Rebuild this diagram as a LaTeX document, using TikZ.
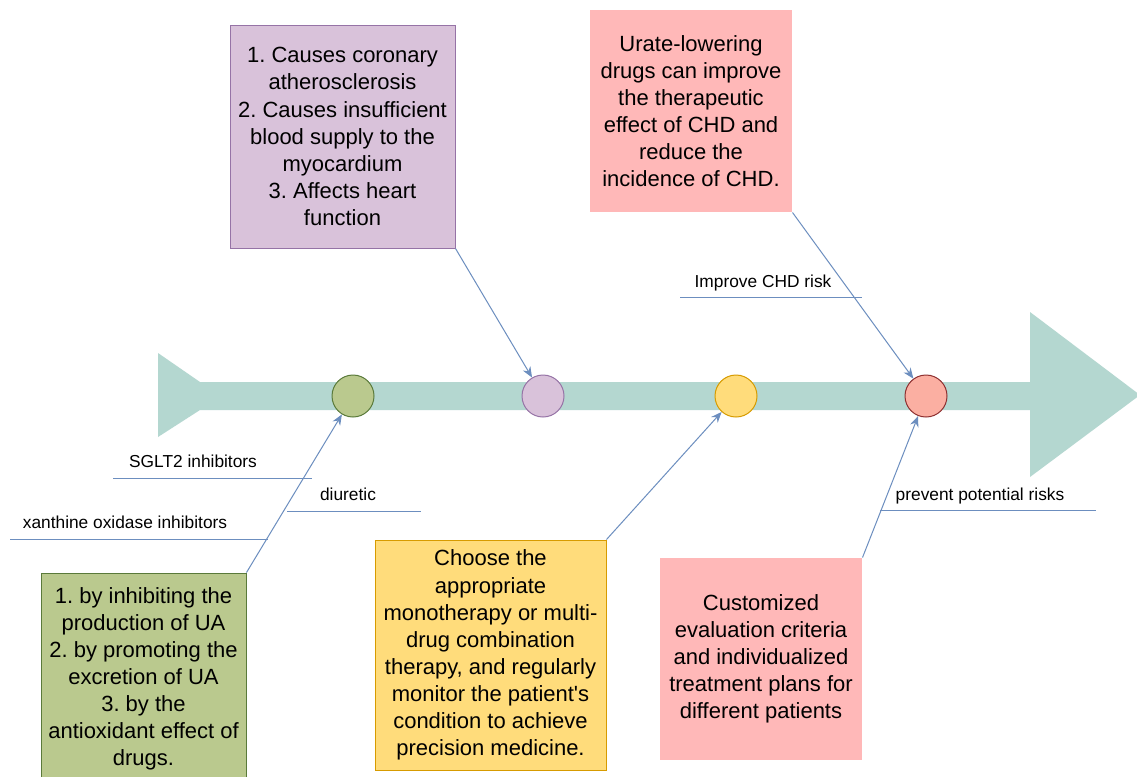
\documentclass[tikz,border=0pt]{standalone}
\usepackage{fontspec}
\setmainfont{Liberation Sans}[Ligatures=TeXOff]
\frenchspacing
\usetikzlibrary{arrows.meta}
\definecolor{spine}{HTML}{B4D7D0}
\definecolor{gfill}{HTML}{BAC98E}
\definecolor{gline}{HTML}{5A7A3A}
\definecolor{pfill}{HTML}{D9C2DA}
\definecolor{pline}{HTML}{9673A6}
\definecolor{yfill}{HTML}{FFDC7B}
\definecolor{yline}{HTML}{D79B00}
\definecolor{rfill}{HTML}{FBAFA2}
\definecolor{rline}{HTML}{8E3030}
\definecolor{pink}{HTML}{FFB8B8}
\definecolor{conn}{HTML}{6C8EBF}
\tikzset{
  dot/.style={circle, minimum size=31.5pt, inner sep=0pt, line width=0.75pt},
  box/.style={rectangle, inner sep=0pt, align=center, line width=0.75pt,
    font=\fontsize{16.5}{20.3}\selectfont},
  link/.style={draw=conn, line width=0.75pt, -{Stealth[length=8pt,width=6.5pt]}},
  branch/.style={draw=conn, line width=0.75pt},
  lbl/.style={font=\fontsize{13}{15}\selectfont, inner sep=0pt, anchor=base}
}
\begin{document}
\begin{tikzpicture}[x=0.75pt,y=-0.75pt]
\clip (0,0) rectangle (1137,776);
\fill[white] (0,0) rectangle (1137,776);
% spine
\fill[spine] (158,353) -- (200,382) -- (1030,382) -- (1030,312) -- (1140,395) -- (1030,477) -- (1030,410) -- (200,410) -- (158,437) -- cycle;
% circles
\node[dot, fill=gfill, draw=gline] (c1) at (353,396) {};
\node[dot, fill=pfill, draw=pline] (c2) at (543,396) {};
\node[dot, fill=yfill, draw=yline] (c3) at (736,396) {};
\node[dot, fill=rfill, draw=rline] (c4) at (926,396) {};
% boxes
\node[box, fill=pfill, draw=pline, minimum width=168.75pt, minimum height=167.25pt] (b1) at (342.5,136.5)
  {1. Causes coronary\\atherosclerosis\\2. Causes insufficient\\blood supply to the\\myocardium\\3. Affects heart\\function};
\node[box, fill=pink, minimum width=151.5pt, minimum height=151.5pt] (b2) at (691,111)
  {Urate-lowering\\drugs can improve\\the therapeutic\\effect of CHD and\\reduce the\\incidence of CHD.};
\node[box, fill=gfill, draw=gline, minimum width=153.75pt, minimum height=159pt] (b3) at (143.5,679)
  {1. by inhibiting the\\production of UA\\2. by promoting the\\excretion of UA\\3. by the\\antioxidant effect of\\drugs.};
\node[box, fill=yfill, draw=yline, minimum width=173.25pt, minimum height=172.5pt] (b4) at (490.5,655)
  {Choose the\\appropriate\\monotherapy or multi-\\drug combination\\therapy, and regularly\\monitor the patient's\\condition to achieve\\precision medicine.};
\node[box, fill=pink, minimum width=151.5pt, minimum height=151.5pt] (b5) at (761,659)
  {Customized\\evaluation criteria\\and individualized\\treatment plans for\\different patients};
% connectors
\draw[link] (b1.south east) -- (c2);
\draw[link] (b2.south east) -- (c4);
\draw[link] (b3.north east) -- (c1);
\draw[link] (b4.north east) -- (c3);
\draw[link] (b5.north east) -- (c4);
% branches
\coordinate (i1) at (680,297); \coordinate (i2) at (862,297);
\coordinate (s1) at (113,478); \coordinate (s2) at (312,478);
\coordinate (d1) at (287,511); \coordinate (d2) at (421,511);
\coordinate (x1) at (10,539);  \coordinate (x2) at (268,539);
\coordinate (v1) at (880,510); \coordinate (v2) at (1096,510);
\draw[branch] (i1) -- (i2);
\draw[branch] (s1) -- (s2);
\draw[branch] (d1) -- (d2);
\draw[branch] (x1) -- (x2);
\draw[branch] (v1) -- (v2);
\node[lbl] (li) at (763,287) {Improve CHD risk};
\node[lbl] (ls) at (193,467) {SGLT2 inhibitors};
\node[lbl] (ld) at (348,500) {diuretic};
\node[lbl] (lx) at (125,528) {xanthine oxidase inhibitors};
\node[lbl] (lv) at (980,500) {prevent potential risks};
\end{tikzpicture}
\end{document}
